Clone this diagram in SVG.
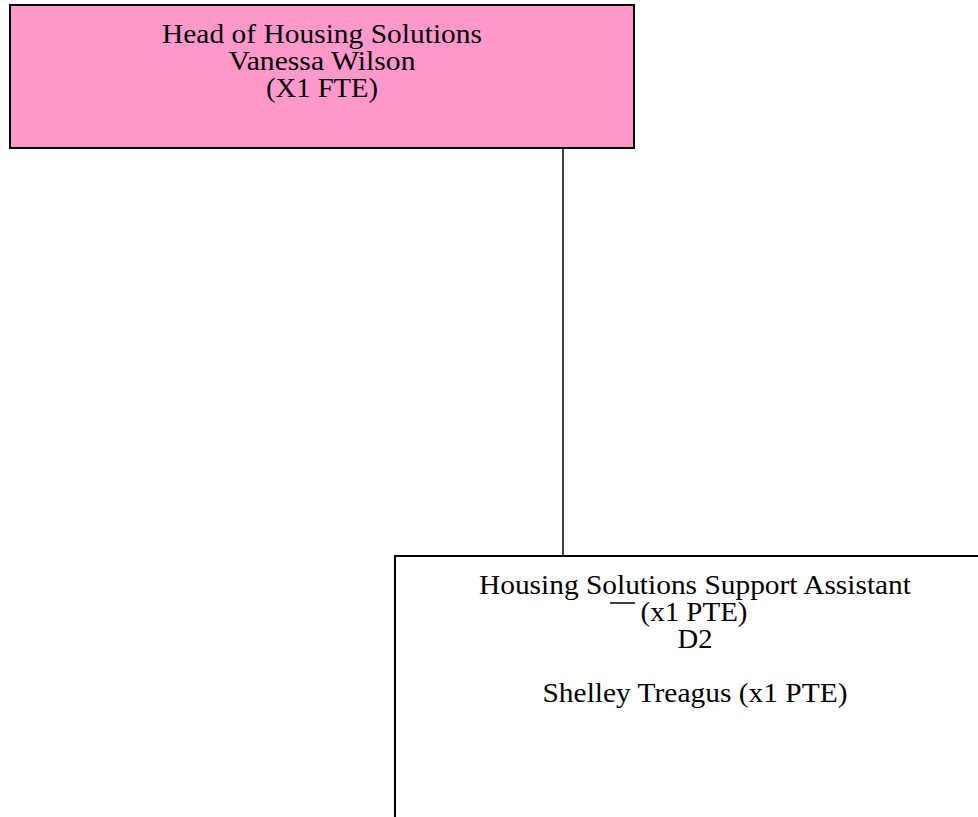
<svg xmlns="http://www.w3.org/2000/svg" width="978" height="817" viewBox="0 0 978 817">
<style>
.box{stroke:#000;stroke-width:2}
.t{font-family:"Liberation Serif","Times New Roman",serif;font-size:27px;fill:#000;text-anchor:middle}
.c{stroke:#000;stroke-width:1.5;fill:none}
</style>
<rect width="978" height="817" fill="#fff"/>
<g id="connectors">
<line class="c" x1="563" y1="149" x2="563" y2="556"/>
</g>
<g id="head">
<rect class="box" x="10" y="5" width="624" height="143" fill="#FF99CC"/>
<text class="t" x="322" y="43" textLength="320" lengthAdjust="spacingAndGlyphs">Head of Housing Solutions</text>
<text class="t" x="322" y="70" textLength="187" lengthAdjust="spacingAndGlyphs">Vanessa Wilson</text>
<text class="t" x="322" y="97" textLength="112" lengthAdjust="spacingAndGlyphs">(X1 FTE)</text>
</g>
<g id="assistant">
<rect class="box" x="395" y="556" width="590" height="270" fill="#fff"/>
<text class="t" x="695" y="594" textLength="432" lengthAdjust="spacingAndGlyphs">Housing Solutions Support Assistant</text>
<text class="t" x="694" y="621" textLength="107" lengthAdjust="spacingAndGlyphs">(x1 PTE)</text>
<text class="t" x="695" y="648" textLength="35" lengthAdjust="spacingAndGlyphs">D2</text>
<text class="t" x="695" y="702" textLength="305" lengthAdjust="spacingAndGlyphs">Shelley Treagus (x1 PTE)</text>
<line x1="610" y1="603" x2="635" y2="603" stroke="#000" stroke-width="1.5"/>
</g>
</svg>
